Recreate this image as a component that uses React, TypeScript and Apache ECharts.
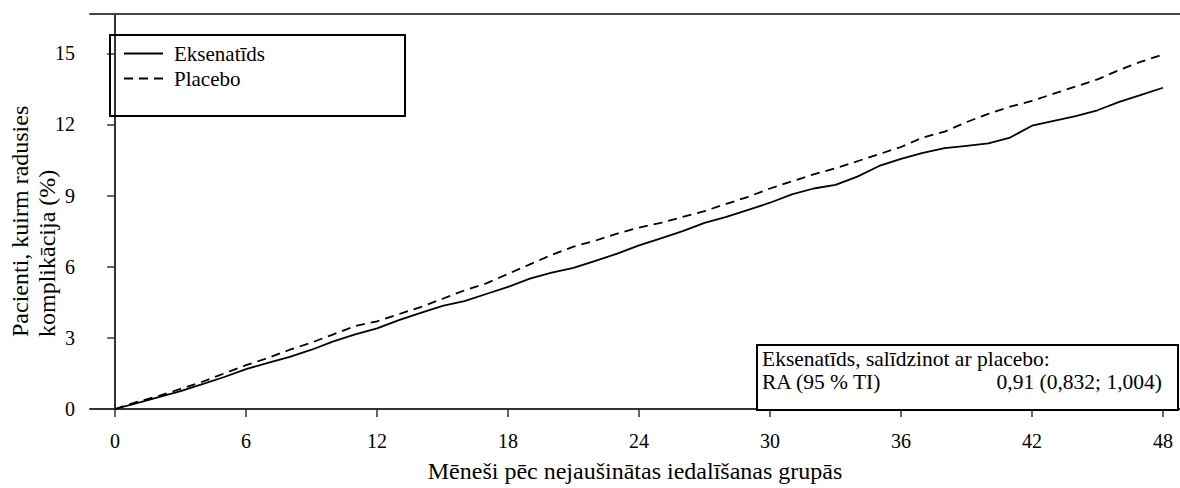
import React, { useEffect, useRef } from "react";
import * as echarts from "echarts";

const months = [
  0, 1, 2, 3, 4, 5, 6, 7, 8, 9, 10, 11, 12, 13, 14, 15, 16, 17, 18, 19, 20, 21, 22, 23, 24,
  25, 26, 27, 28, 29, 30, 31, 32, 33, 34, 35, 36, 37, 38, 39, 40, 41, 42, 43, 44, 45, 46, 47, 48,
];
const exenatide = [
  0, 0.25, 0.5, 0.75, 1.05, 1.35, 1.68, 1.95, 2.2, 2.5, 2.85, 3.15, 3.4, 3.75, 4.05, 4.35, 4.55,
  4.85, 5.15, 5.5, 5.75, 5.95, 6.25, 6.55, 6.9, 7.2, 7.5, 7.85, 8.1, 8.4, 8.7, 9.05, 9.3, 9.45,
  9.8, 10.25, 10.55, 10.8, 11.0, 11.1, 11.2, 11.45, 11.95, 12.15, 12.35, 12.6, 12.95, 13.25, 13.55,
];
const placebo = [
  0, 0.3, 0.55, 0.85, 1.15, 1.5, 1.85, 2.15, 2.5, 2.8, 3.15, 3.5, 3.7, 4.0, 4.3, 4.65, 5.0, 5.3,
  5.7, 6.1, 6.5, 6.85, 7.1, 7.4, 7.65, 7.85, 8.1, 8.35, 8.65, 8.95, 9.3, 9.6, 9.9, 10.15, 10.45,
  10.75, 11.05, 11.45, 11.7, 12.1, 12.45, 12.75, 13.0, 13.3, 13.6, 13.9, 14.3, 14.65, 14.95,
];
const xTicks = [0, 6, 12, 18, 24, 30, 36, 42, 48];
const seriesNames = ["Eksenatīds", "Placebo"];
const xTitle = "Mēneši pēc nejaušinātas iedalīšanas grupās";
const yTitle = ["Pacienti, kuirm radusies", "komplikācija (%)"];
const noteLines = ["Eksenatīds, salīdzinot ar placebo:", "RA (95 % TI)", "0,91 (0,832; 1,004)"];

const FONT = '"Liberation Serif", "Times New Roman", Times, "DejaVu Serif", serif';
const AXIS = "#333";

export default function App() {
  const ref = useRef<HTMLDivElement>(null);
  useEffect(() => {
    if (!ref.current) return;
    const chart = echarts.init(ref.current, undefined, { renderer: "svg" });
    const xMin = -1.15;
    const xMax = 48.78;
    const txt = (text: string, x: number, y: number, align: string, size: number, extra: any = {}) => ({
      type: "text",
      x,
      y,
      z: 11,
      ...extra,
      style: {
        text,
        fontFamily: FONT,
        fontSize: size,
        lineHeight: size,
        fill: "#000",
        textAlign: align,
        textVerticalAlign: "middle",
      },
    });
    chart.setOption({
      animation: false,
      backgroundColor: "#fff",
      textStyle: { fontFamily: FONT, color: "#000" },
      grid: { left: 90, right: 0, top: 14, bottom: 73, containLabel: false },
      legend: {
        orient: "vertical",
        left: 123,
        top: 43,
        itemWidth: 39,
        itemHeight: 14,
        itemGap: 4,
        padding: 0,
        itemStyle: { opacity: 0 },
        textStyle: { fontFamily: FONT, fontSize: 21, color: "#000", padding: [0, 0, 0, 6] },
        data: seriesNames,
      },
      xAxis: [
        {
          type: "value",
          position: "bottom",
          min: xMin,
          max: xMax,
          name: xTitle,
          nameLocation: "middle",
          nameGap: 50,
          nameTextStyle: { fontFamily: FONT, fontSize: 24, color: "#000" },
          axisLine: { show: true, lineStyle: { color: AXIS, width: 2 } },
          axisTick: { show: true, length: 8, customValues: xTicks, lineStyle: { color: AXIS, width: 1.5 } },
          axisLabel: {
            show: true,
            customValues: xTicks,
            margin: 22,
            fontFamily: FONT,
            fontSize: 20,
            color: "#000",
          },
          splitLine: { show: false },
        },
        {
          type: "value",
          position: "top",
          min: xMin,
          max: xMax,
          axisLine: { show: true, lineStyle: { color: "#444", width: 2 } },
          axisTick: { show: false },
          axisLabel: { show: false },
          splitLine: { show: false },
        },
      ],
      yAxis: {
        type: "value",
        min: 0,
        max: 16.66,
        interval: 3,
        axisLine: { show: true, lineStyle: { color: AXIS, width: 2 } },
        axisTick: { show: true, length: 8, lineStyle: { color: AXIS, width: 1.5 } },
        axisLabel: {
          margin: 15,
          fontFamily: FONT,
          fontSize: 20,
          color: "#000",
          showMaxLabel: false,
          formatter: (v: number) => (v % 3 === 0 ? String(v) : ""),
        },
        splitLine: { show: false },
      },
      series: [
        {
          name: seriesNames[0],
          type: "line",
          symbol: "none",
          xAxisIndex: 0,
          data: months.map((m, i) => [m, exenatide[i]]),
          lineStyle: { color: "#000", width: 1.8, type: "solid" },
          itemStyle: { color: "#000" },
        },
        {
          name: seriesNames[1],
          type: "line",
          symbol: "none",
          xAxisIndex: 0,
          data: months.map((m, i) => [m, placebo[i]]),
          lineStyle: { color: "#000", width: 1.8, type: [9, 6] },
          itemStyle: { color: "#000" },
        },
      ],
      graphic: [
        {
          type: "rect",
          shape: { x: 110, y: 35, width: 295, height: 81 },
          style: { fill: "none", stroke: "#000", lineWidth: 2 },
          z: 10,
        },
        {
          type: "rect",
          shape: { x: 757, y: 345, width: 421, height: 65 },
          style: { fill: "#fff", stroke: "#000", lineWidth: 2 },
          z: 10,
        },
        txt(noteLines[0], 762, 359, "left", 21.5),
        txt(noteLines[1], 762, 382, "left", 21.5),
        txt(noteLines[2], 1162, 382, "right", 21.5),
        txt(yTitle[0], 20, 337, "left", 24, { rotation: Math.PI / 2 }),
        txt(yTitle[1], 47, 337, "left", 24, { rotation: Math.PI / 2 }),
      ],
    });
    return () => chart.dispose();
  }, []);
  return (
    <div
      ref={ref}
      style={{ position: "fixed", left: 0, top: 0, width: 1180, height: 488, background: "#fff" }}
    />
  );
}
